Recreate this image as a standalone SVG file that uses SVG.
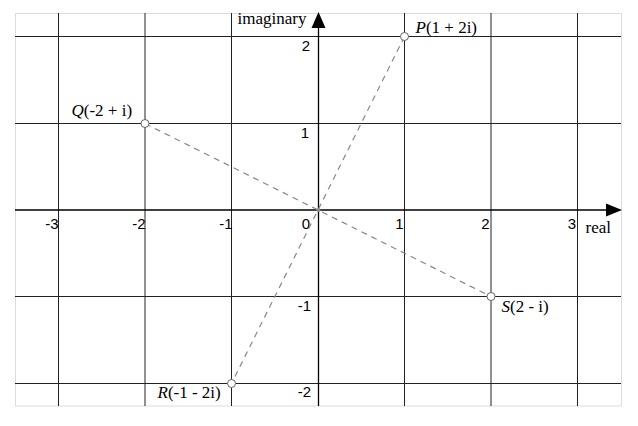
<svg xmlns="http://www.w3.org/2000/svg" width="638" height="426" viewBox="0 0 638 426">
<style>
.frame{fill:#fff;stroke:#dcdcdc;stroke-width:1}
.grid{stroke:#222;stroke-width:1;fill:none}
.axis{stroke:#000;stroke-width:1.3;fill:none}
.dash{stroke:#888;stroke-width:1.2;stroke-dasharray:6,5;fill:none}
.pt{fill:#fff;stroke:#666;stroke-width:1}
.tick{font-family:"Liberation Sans",Arial,sans-serif;font-size:15px;fill:#000}
.lbl{font-family:"Liberation Serif","Times New Roman",serif;font-size:17px;fill:#000}
.it{font-style:italic}
</style>
<rect width="638" height="426" fill="#fff"/>
<rect class="frame" x="15.5" y="13.5" width="606" height="392.5"/>
<g id="grid" class="grid">
<line x1="58.5" y1="13" x2="58.5" y2="406"/>
<line x1="145" y1="13" x2="145" y2="406"/>
<line x1="231.5" y1="13" x2="231.5" y2="406"/>
<line x1="404.5" y1="13" x2="404.5" y2="406"/>
<line x1="491" y1="13" x2="491" y2="406"/>
<line x1="577.5" y1="13" x2="577.5" y2="406"/>
<line x1="15" y1="36.5" x2="621" y2="36.5"/>
<line x1="15" y1="123.5" x2="621" y2="123.5"/>
<line x1="15" y1="296.5" x2="621" y2="296.5"/>
<line x1="15" y1="383.5" x2="621" y2="383.5"/>
</g>
<g id="axes">
<line class="axis" x1="15" y1="210" x2="610" y2="210"/>
<line class="axis" x1="318.5" y1="406" x2="318.5" y2="24"/>
<polygon points="622,210 606,203.5 606,216.5" fill="#000"/>
<polygon points="318.5,12 311.5,28 325.5,28" fill="#000"/>
</g>
<g id="ticks" class="tick">
<text x="58.5" y="229" text-anchor="end">-3</text>
<text x="145.5" y="229" text-anchor="end">-2</text>
<text x="232.5" y="229" text-anchor="end">-1</text>
<text x="310" y="229" text-anchor="end">0</text>
<text x="403.5" y="229" text-anchor="end">1</text>
<text x="489.5" y="229" text-anchor="end">2</text>
<text x="576" y="229" text-anchor="end">3</text>
<text x="310" y="50.5" text-anchor="end">2</text>
<text x="309" y="137.5" text-anchor="end">1</text>
<text x="311" y="311" text-anchor="end">-1</text>
<text x="311" y="397" text-anchor="end">-2</text>
</g>
<g id="axis-labels" class="lbl">
<text x="306.5" y="24" text-anchor="end">imaginary</text>
<text x="585.5" y="233">real</text>
</g>
<g id="connectors">
<line class="dash" x1="404.5" y1="36.5" x2="231.5" y2="383.5"/>
<line class="dash" x1="145" y1="123.5" x2="491" y2="296.5"/>
</g>
<g id="origin"><circle cx="318.5" cy="210" r="2" fill="#888"/></g>
<g id="P"><circle class="pt" cx="404.5" cy="36.5" r="4"/><text class="lbl" x="415.5" y="33"><tspan class="it">P</tspan>(1 + 2i)</text></g>
<g id="Q"><circle class="pt" cx="145" cy="123.5" r="4"/><text class="lbl" x="71.5" y="116"><tspan class="it">Q</tspan>(-2 + i)</text></g>
<g id="R"><circle class="pt" cx="231.5" cy="383.5" r="4"/><text class="lbl" x="157.5" y="398"><tspan class="it">R</tspan>(-1 - 2i)</text></g>
<g id="S"><circle class="pt" cx="491" cy="296.5" r="4"/><text class="lbl" x="501.5" y="311.5"><tspan class="it">S</tspan>(2 - i)</text></g>
</svg>
